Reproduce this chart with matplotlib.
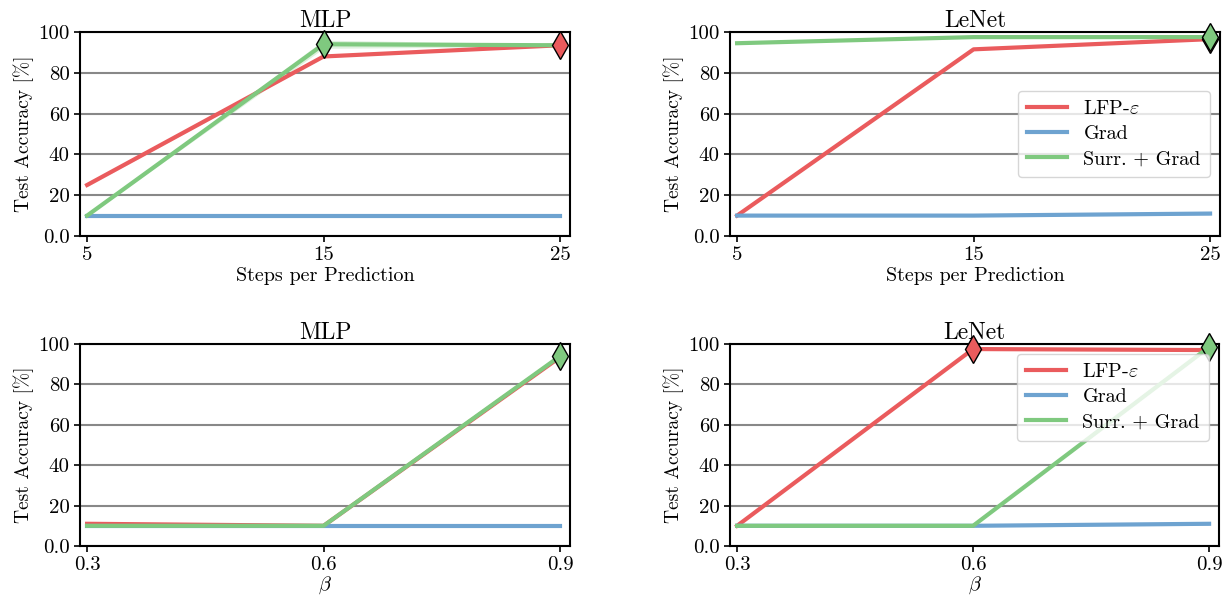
import matplotlib
matplotlib.use("Agg")
import matplotlib.pyplot as plt

plt.rcParams['font.family'] = 'serif'
plt.rcParams['font.serif'] = ['cmr10', 'DejaVu Serif']
plt.rcParams['mathtext.fontset'] = 'cm'
plt.rcParams['axes.unicode_minus'] = False

# data
steps = [5, 15, 25]
betas = [0.3, 0.6, 0.9]
methods = [r'LFP-$\varepsilon$', 'Grad', 'Surr. + Grad']
colors = ['#ea5b5d', '#6ea3d0', '#7fc97f']

mlp_steps = {'lfp': [25, 88, 93.5], 'grad': [10, 10, 10], 'surr': [10, 94, 93.5]}
mlp_steps_std = {'lfp': [0.8, 0.5, 0.3], 'grad': [0.2, 0.2, 0.2], 'surr': [0.3, 2.0, 0.6]}
lenet_steps = {'lfp': [10, 91.5, 96.5], 'grad': [10, 10, 11], 'surr': [94.5, 97.5, 97.5]}
lenet_steps_std = {'lfp': [0.3, 0.4, 0.3], 'grad': [0.2, 0.3, 0.8], 'surr': [0.3, 0.2, 0.2]}
mlp_beta = {'lfp': [11, 10, 93.5], 'grad': [10, 10, 10], 'surr': [10, 10, 94]}
mlp_beta_std = {'lfp': [0.3, 0.3, 0.5], 'grad': [0.2, 0.2, 0.2], 'surr': [0.2, 0.2, 0.4]}
lenet_beta = {'lfp': [10, 97.5, 97], 'grad': [10, 10, 11], 'surr': [10, 10, 98.5]}
lenet_beta_std = {'lfp': [0.3, 0.2, 0.2], 'grad': [0.2, 0.3, 0.8], 'surr': [0.2, 0.2, 0.3]}

# best markers: (key, x index)
best = {
    'mlp_steps': [('surr', 1), ('lfp', 2)],
    'lenet_steps': [('lfp', 2), ('surr', 2)],
    'mlp_beta': [('surr', 2)],
    'lenet_beta': [('lfp', 1), ('surr', 2)],
}

yticks = [0, 20, 40, 60, 80, 100]
ytick_labels = ['0.0', '20', '40', '60', '80', '100']

fig = plt.figure(figsize=(12.25, 5.96), dpi=100)
W, H = 1225, 596
boxes = [(80, 32, 570, 236), (730, 32, 1220, 236),
         (80, 344, 570, 546), (730, 344, 1219, 546)]
panels = [
    ('MLP', steps, mlp_steps, mlp_steps_std, 'Steps per Prediction', 'mlp_steps', None),
    ('LeNet', steps, lenet_steps, lenet_steps_std, 'Steps per Prediction', 'lenet_steps', 'center right'),
    ('MLP', betas, mlp_beta, mlp_beta_std, r'$\beta$', 'mlp_beta', None),
    ('LeNet', betas, lenet_beta, lenet_beta_std, r'$\beta$', 'lenet_beta', 'upper right'),
]
keys = ['lfp', 'grad', 'surr']

for (l, t, r, b), (title, xs, data, std, xlabel, name, legloc) in zip(boxes, panels):
    ax = fig.add_axes([l / W, 1 - b / H, (r - l) / W, (b - t) / H])
    for k, lab, c in zip(keys, methods, colors):
        y = data[k]
        lo = [v - s for v, s in zip(y, std[k])]
        hi = [v + s for v, s in zip(y, std[k])]
        ax.fill_between(xs, lo, hi, color=c, alpha=0.25, lw=0)
        ax.plot(xs, y, color=c, lw=3, label=lab, zorder=3)
    for k, i in best[name]:
        c = colors[keys.index(k)]
        ax.plot(xs[i], data[k][i], marker='d', ms=14, color=c, mec='black',
                mew=1.0, zorder=5, clip_on=False)
    span = xs[-1] - xs[0]
    ax.set_xlim(xs[0] - 0.015 * span, xs[-1] + 0.021 * span)
    ax.set_ylim(0, 100)
    ax.set_xticks(xs)
    if xs is betas:
        ax.set_xticklabels(['0.3', '0.6', '0.9'])
    ax.set_yticks(yticks)
    ax.set_yticklabels(ytick_labels)
    ax.yaxis.grid(True, color='#888888', lw=1.5)
    ax.set_axisbelow(True)
    for s in ax.spines.values():
        s.set_linewidth(1.5)
    ax.tick_params(labelsize=15, width=1.2, length=4)
    ax.set_title(title, fontsize=17, pad=2)
    ax.set_xlabel(xlabel, fontsize=14.5, labelpad=0 if xs is betas else 2)
    ax.set_ylabel('Test Accuracy [%]', fontsize=14, labelpad=3)
    if legloc:
        ax.legend(loc=legloc, fontsize=14.5, framealpha=0.8, handlelength=2.0,
                  borderpad=0.45, labelspacing=0.35)

fig.savefig('out.png', dpi=100)
